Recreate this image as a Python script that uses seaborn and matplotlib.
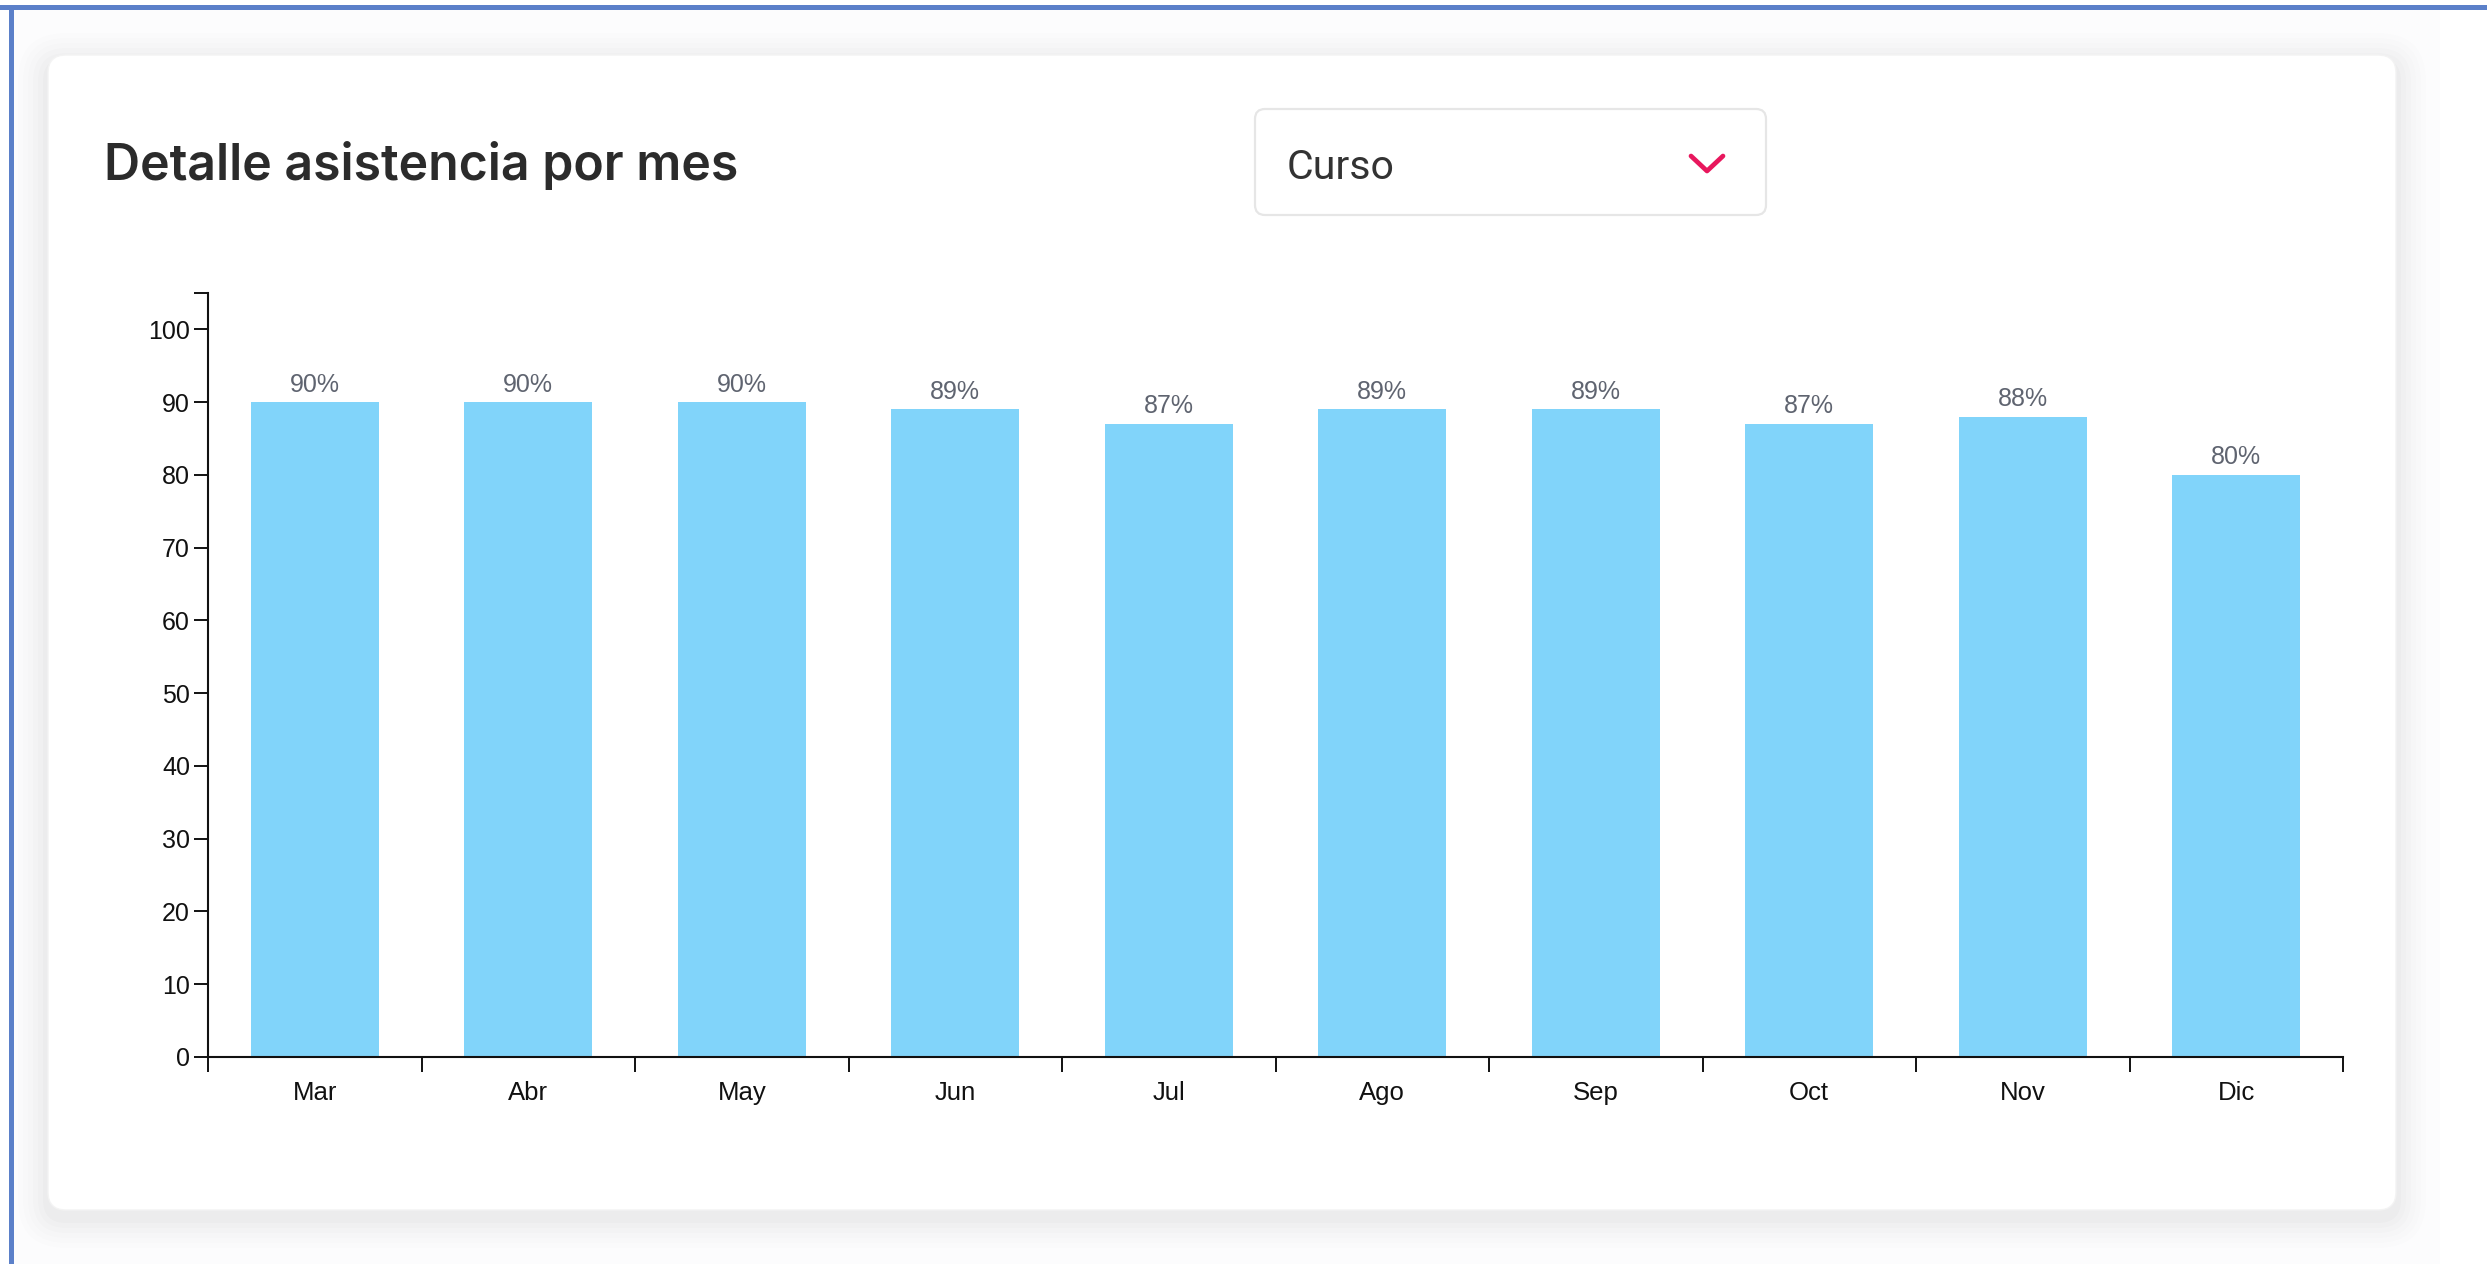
import numpy as np
import pandas as pd
import matplotlib
matplotlib.use("Agg")
import matplotlib.pyplot as plt
import seaborn as sns
from matplotlib.patches import FancyBboxPatch, Rectangle
from matplotlib.lines import Line2D
from matplotlib.transforms import IdentityTransform

# ---- data ----
months = ["Mar", "Abr", "May", "Jun", "Jul", "Ago", "Sep", "Oct", "Nov", "Dic"]
attendance = [90, 90, 90, 89, 87, 89, 89, 87, 88, 80]
y_ticks = [0, 10, 20, 30, 40, 50, 60, 70, 80, 90, 100]
title_text = "Detalle asistencia por mes"
dropdown_text = "Curso"

W, H = 2487, 1264
sns.set_theme(style="white")
plt.rcParams["font.family"] = ["Liberation Sans", "DejaVu Sans"]

fig = plt.figure(figsize=(W / 100, H / 100), dpi=100)
fig.patch.set_facecolor("#ffffff")
ident = IdentityTransform()

def px_rect(x0, y0, x1, y1, **kw):
    return Rectangle((x0, H - y1), x1 - x0, y1 - y0, transform=ident, **kw)

def px_round(x0, y0, x1, y1, r, **kw):
    return FancyBboxPatch((x0, H - y1), x1 - x0, y1 - y0,
                          boxstyle=f"round,pad=0,rounding_size={r}",
                          transform=ident, **kw)

# page background inside frame
fig.patches.append(px_rect(0, 0, W, H, facecolor="#ffffff", edgecolor="none", zorder=-20))
fig.patches.append(px_rect(12, 8, 2440, H, facecolor="#fcfcfd", edgecolor="none", zorder=-19))
# soft shadow
for i, a in enumerate([0.006, 0.007, 0.008, 0.010, 0.012, 0.014]):
    g = 30 - i * 5
    fig.patches.append(px_round(48 - g, 55 - g + 8, 2396 + g, 1210 + g + 8, 18 + g,
                                facecolor="#000000", edgecolor="none", alpha=a, zorder=-18))
# card
fig.patches.append(px_round(48, 55, 2396, 1210, 18, facecolor="#ffffff",
                            edgecolor="#f3f3f3", linewidth=1, zorder=-17))
# blue frame lines (top and left)
fig.patches.append(px_rect(0, 5, W, 10, facecolor="#5b80c9", edgecolor="none", zorder=-16))
fig.patches.append(px_rect(9, 5, 14, H, facecolor="#5b80c9", edgecolor="none", zorder=-16))

# title
fig.text(104 / W, 1 - 180 / H, title_text, fontsize=36, fontweight="semibold",
         color="#2b2b2b", va="baseline", ha="left",
         family=["Inter", "Liberation Sans", "DejaVu Sans"])

# dropdown
fig.patches.append(px_round(1255, 109, 1766, 215, 10, facecolor="#ffffff",
                            edgecolor="#e6e6e6", linewidth=1.6, zorder=-10))
fig.text(1287 / W, 1 - 179 / H, dropdown_text, fontsize=29.5, color="#333333",
         va="baseline", ha="left", family=["Roboto", "DejaVu Sans"])
fig.lines.append(Line2D([1691, 1707, 1723], [H - 156, H - 171, H - 156], transform=ident,
                        color="#e8175d", linewidth=3.4, solid_capstyle="round",
                        solid_joinstyle="round"))

# chart
ax = fig.add_axes([208 / W, 1 - 1057 / H, (2343 - 208) / W, (1057 - 293) / H])
ax.set_facecolor("none")
df = pd.DataFrame({"mes": months, "asistencia": attendance})
sns.barplot(data=df, x="mes", y="asistencia", color="#81d4fa", saturation=1,
            width=0.6, ax=ax, edgecolor="none", linewidth=0)

ax.bar_label(ax.containers[0], labels=[f"{v}%" for v in attendance], padding=4,
             fontsize=18, color="#5f6470")

ax.set_xlim(-0.5, len(months) - 0.5)
ax.set_ylim(0, 105)
ax.set_xlabel("")
ax.set_ylabel("")

# x: boundary ticks (major) + centered labels (minor)
ax.set_xticks(np.arange(-0.5, len(months), 1.0))
ax.set_xticklabels([])
ax.set_xticks(np.arange(len(months)), minor=True)
ax.set_xticklabels(months, minor=True)
ax.tick_params(axis="x", which="both", bottom=True)
ax.tick_params(axis="x", which="major", length=11, width=1.4, color="#111111", direction="out")
ax.tick_params(axis="x", which="minor", length=0, pad=17, labelsize=18.5, labelcolor="#111111")

ax.set_yticks(y_ticks)
ax.set_yticklabels([str(t) for t in y_ticks])
ax.set_yticks([105], minor=True)
ax.tick_params(axis="y", which="both", left=True, length=10, width=1.4, color="#111111",
               direction="out", pad=3, labelsize=18, labelcolor="#111111")

for s in ["top", "right"]:
    ax.spines[s].set_visible(False)
for s in ["left", "bottom"]:
    ax.spines[s].set_color("#111111")
    ax.spines[s].set_linewidth(1.5)

fig.savefig("out.png", dpi=100)
